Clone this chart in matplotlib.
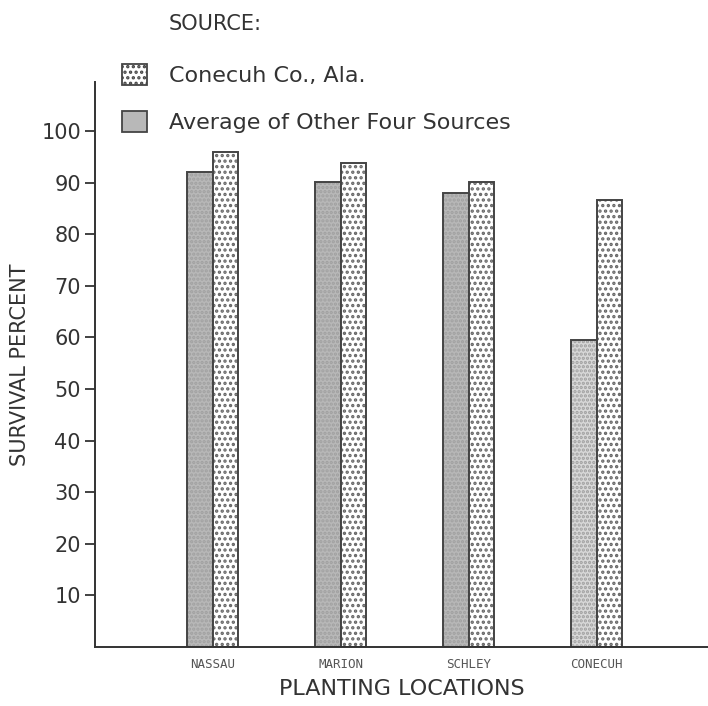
import numpy as np
import matplotlib
matplotlib.use("Agg")
import matplotlib.pyplot as plt
from matplotlib.patches import Patch

# survival percent by planting location
locations = ["NASSAU", "MARION", "SCHLEY", "CONECUH"]
other_four = [92.0, 90.2, 88.1, 59.5]
conecuh_src = [95.9, 93.8, 90.2, 86.7]
y_ticks = [10, 20, 30, 40, 50, 60, 70, 80, 90, 100]

plt.rcParams['font.family'] = ['DejaVu Sans']
plt.rcParams['hatch.linewidth'] = 1.6

fig = plt.figure(figsize=(7.08, 7.06), dpi=100)
ax = fig.add_axes([0.134, 0.0836, 0.866, 0.80])

x = np.arange(len(locations))
w = 0.2
gray_fill = ['#b8b8b8', '#b8b8b8', '#b8b8b8', '#d8d8d8']
# gray bars: light texture first, dark outline on top
ax.bar(x - w / 2, other_four, width=w, color=gray_fill, edgecolor='#a0a0a0',
       linewidth=0, hatch='....')
ax.bar(x - w / 2, other_four, width=w, fill=False, edgecolor='#444444', linewidth=1.4)
ax.bar(x + w / 2, conecuh_src, width=w, color='white', edgecolor='#666666',
       linewidth=0, hatch='...')
ax.bar(x + w / 2, conecuh_src, width=w, fill=False, edgecolor='#444444', linewidth=1.4)

ax.set_xlim(-0.92, 3.87)
ax.set_ylim(0, 109.5)
ax.set_yticks(y_ticks)
ax.set_yticklabels([str(v) for v in y_ticks], fontsize=15, color='#333333')
ax.tick_params(axis='y', length=7, width=1.3, color='#333333', pad=3)
ax.set_xticks(x)
ax.set_xticklabels(locations, fontsize=9, color='#555555', family='DejaVu Sans Mono')
ax.tick_params(axis='x', length=0, pad=8)

for s in ['top', 'right']:
    ax.spines[s].set_visible(False)
for s in ['left', 'bottom']:
    ax.spines[s].set_linewidth(1.4)
    ax.spines[s].set_color('#333333')

ax.set_ylabel("SURVIVAL PERCENT", fontsize=15, color='#333333', labelpad=8)
ax.set_xlabel("PLANTING LOCATIONS", fontsize=16, color='#333333', labelpad=6)

fig.text(0.238, 0.966, "SOURCE:", fontsize=15, color='#333333', va='center', ha='left')
handles = [
    Patch(facecolor='white', edgecolor='#444444', hatch='...', linewidth=1.3,
          label="Conecuh Co., Ala."),
    Patch(facecolor='#b8b8b8', edgecolor='#444444', linewidth=1.3,
          label="Average of Other Four Sources"),
]
leg = fig.legend(handles=handles, loc='upper left', bbox_to_anchor=(0.16, 0.922),
                 frameon=False, fontsize=16, handlelength=1.1, handleheight=1.1,
                 labelspacing=1.1, handletextpad=1.0, borderaxespad=0)
for t in leg.get_texts():
    t.set_color('#333333')

fig.savefig("out.png", dpi=100)
